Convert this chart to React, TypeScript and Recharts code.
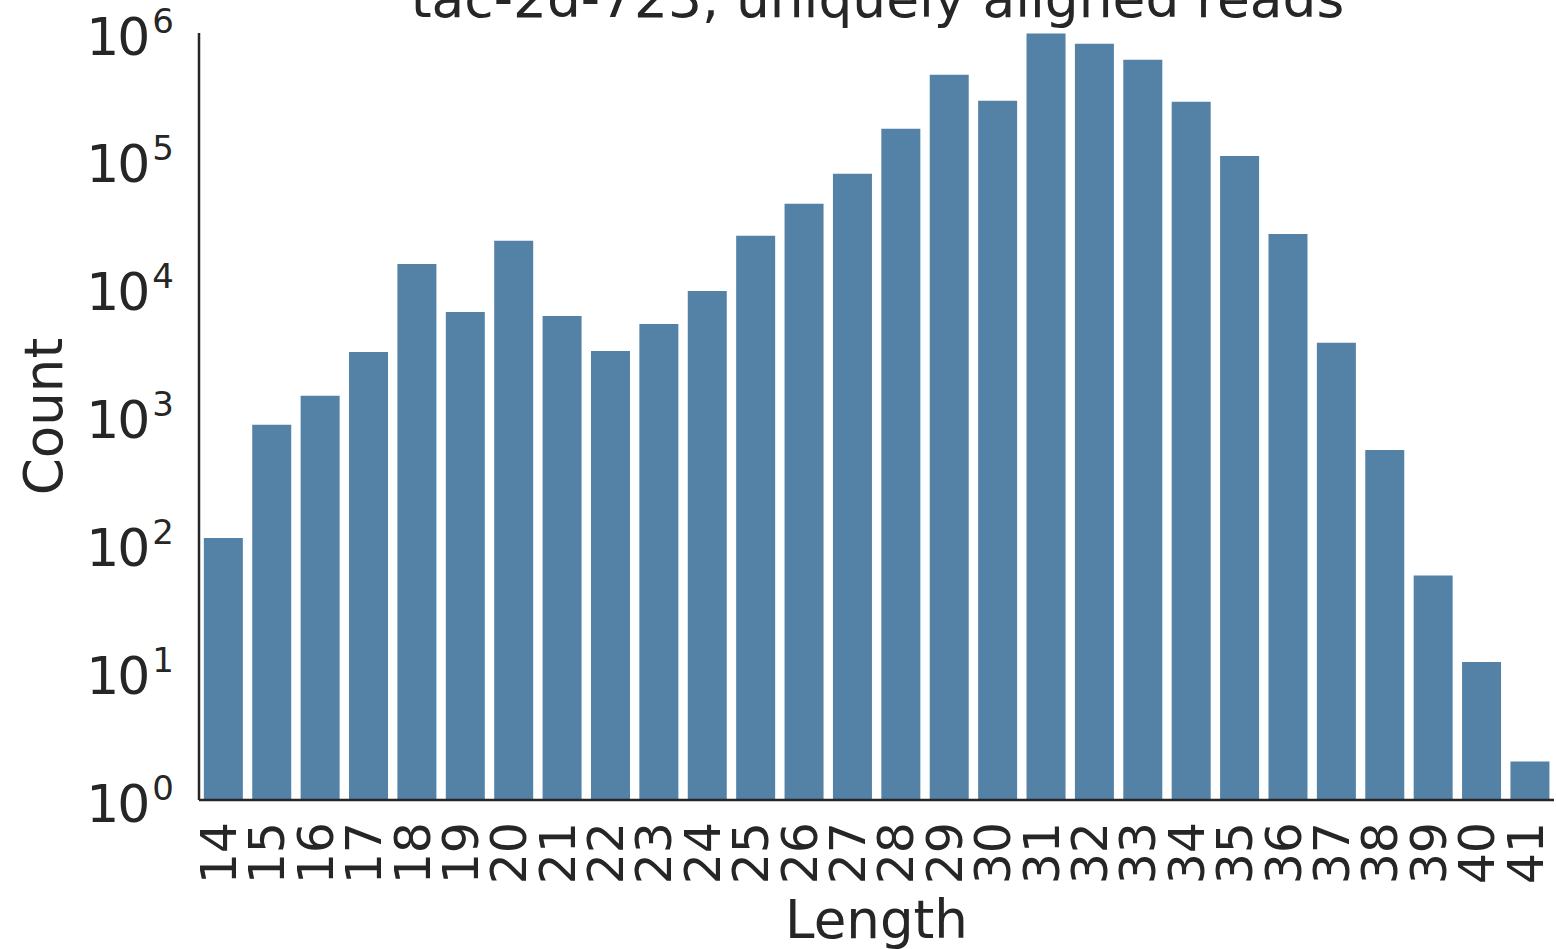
import React from 'react';
import { BarChart, Bar, XAxis, YAxis } from 'recharts';

const lengths = [14, 15, 16, 17, 18, 19, 20, 21, 22, 23, 24, 25, 26, 27, 28, 29, 30, 31, 32, 33, 34, 35, 36, 37, 38, 39, 40, 41];
const counts = [112, 860, 1450, 3200, 15600, 6580, 23700, 6120, 3260, 5300, 9600, 25900, 46100, 79100, 178000, 471000, 295000, 990000, 823000, 617000, 290000, 109000, 26800, 3770, 548, 57, 12, 2];
const yTicks = [1, 10, 100, 1000, 10000, 100000, 1000000];
const titleText = 'tac-2d-723, uniquely aligned reads';
const xLabel = 'Length';
const yLabel = 'Count';

const data = lengths.map((l, i) => ({ length: String(l), count: counts[i] }));

const FONT = 'DejaVu Sans';
const INK = '#262626';
const BAR = '#5481A6';

const YTick = (props: any) => {
  const { x, y, payload } = props;
  const exp = Math.round(Math.log10(payload.value));
  return (
    <text x={x} y={y + 21.5} textAnchor="end" fill={INK} fontFamily={FONT} fontSize={52}>
      <tspan letterSpacing={-2}>10</tspan>
      <tspan dx={4} dy={-22} fontSize={34}>{exp}</tspan>
    </text>
  );
};

const XTick = (props: any) => {
  const { x, y, payload } = props;
  return (
    <text
      transform={`translate(${x},${y}) rotate(-90)`}
      textAnchor="end"
      dy="0.26em"
      fill={INK}
      fontFamily={FONT}
      fontSize={49}
    >
      {payload.value}
    </text>
  );
};

export default function App() {
  return (
    <div style={{ position: 'absolute', left: 0, top: 0, width: 1556, height: 949, background: '#fff' }}>
      <BarChart
        width={1556}
        height={949}
        data={data}
        margin={{ top: 33, right: 2, bottom: 0, left: 0 }}
        barCategoryGap="10%"
      >
        <XAxis
          dataKey="length"
          height={149}
          interval={0}
          tickSize={0}
          tickMargin={22}
          tick={<XTick />}
          axisLine={{ stroke: INK, strokeWidth: 2.5 }}
          tickLine={false}
        />
        <YAxis
          scale="log"
          domain={[1, 1000000]}
          ticks={yTicks}
          allowDataOverflow
          width={199}
          tickSize={0}
          tickMargin={25}
          tick={<YTick />}
          axisLine={{ stroke: INK, strokeWidth: 2.5 }}
          tickLine={false}
          interval={0}
        />
        <Bar dataKey="count" fill={BAR} isAnimationActive={false} />
        <text x={877.5} y={17} textAnchor="middle" fill={INK} fontFamily={FONT} fontSize={53.4}>
          {titleText}
        </text>
        <text x={876.5} y={938} textAnchor="middle" fill={INK} fontFamily={FONT} fontSize={53}>
          {xLabel}
        </text>
        <text
          transform="translate(62,416.5) rotate(-90)"
          textAnchor="middle"
          fill={INK}
          fontFamily={FONT}
          fontSize={53}
        >
          {yLabel}
        </text>
      </BarChart>
    </div>
  );
}
